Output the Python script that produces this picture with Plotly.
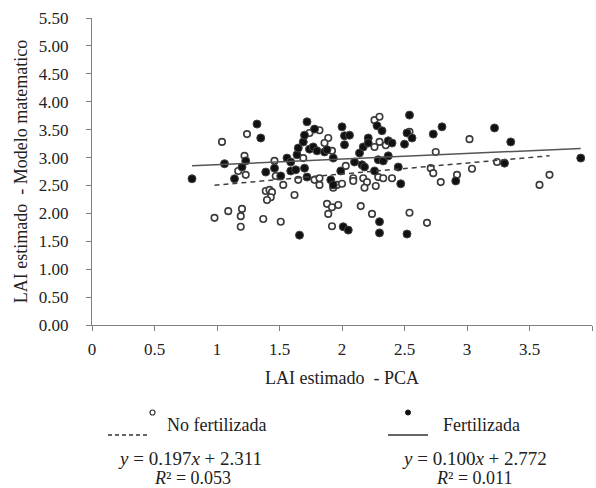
import plotly.graph_objects as go

# ---- data ----
x_nofert = [1.04, 1.24, 1.22, 1.17, 1.23, 0.98, 1.09, 1.19, 1.20, 1.19, 1.37, 1.51, 1.46, 1.47,
            1.53, 1.39, 1.42, 1.44, 1.43, 1.40, 1.62, 1.65, 1.69, 1.74, 1.82, 1.89, 1.86, 1.92,
            1.78, 1.82, 1.82, 1.88, 1.92, 1.97, 1.89, 1.92, 1.96, 2.00, 1.93, 2.03, 2.09, 2.09,
            2.15, 2.17, 2.20, 2.18, 2.27, 2.29, 2.33, 2.40, 2.24, 2.54, 2.68, 2.26, 2.30, 2.30,
            2.35, 2.26, 2.54, 2.71, 2.73, 2.75, 2.79, 2.92, 3.02, 3.04, 3.24, 3.58, 3.66]
y_nofert = [3.28, 3.42, 3.03, 2.76, 2.69, 1.92, 2.04, 1.95, 2.08, 1.76, 1.90, 1.85, 2.94, 2.67,
            2.51, 2.40, 2.42, 2.38, 2.29, 2.24, 2.33, 2.60, 2.99, 3.44, 3.49, 3.35, 3.26, 3.12,
            2.60, 2.51, 2.63, 2.17, 2.11, 2.15, 1.99, 1.77, 2.51, 2.53, 2.46, 2.85, 2.63, 2.58,
            2.13, 2.63, 2.56, 2.46, 2.49, 2.65, 2.63, 2.63, 1.99, 2.01, 1.83, 3.67, 3.73, 3.28,
            3.22, 3.19, 3.46, 2.81, 2.72, 3.10, 2.56, 2.69, 3.33, 2.80, 2.92, 2.51, 2.69]

x_fert = [0.80, 1.06, 1.14, 1.20, 1.23, 1.32, 1.35, 1.66, 1.39, 1.46, 1.51, 1.56, 1.59, 1.59,
          1.63, 1.64, 1.65, 1.69, 1.70, 1.72, 1.72, 1.70, 1.74, 1.77, 1.78, 1.80, 1.86, 1.88,
          1.93, 1.91, 1.93, 1.99, 2.01, 2.05, 2.00, 2.02, 2.02, 2.06, 2.10, 2.14, 2.16, 2.18,
          2.17, 2.21, 2.21, 2.28, 2.32, 2.26, 2.29, 2.33, 2.37, 2.37, 2.40, 2.30, 2.30, 2.45,
          2.47, 2.50, 2.52, 2.54, 2.56, 2.52, 2.73, 2.80, 2.91, 3.22, 3.35, 3.30, 3.91]
y_fert = [2.62, 2.89, 2.62, 2.83, 2.94, 3.60, 3.35, 1.61, 2.74, 2.81, 2.67, 2.99, 2.92, 2.76,
          2.78, 3.05, 3.17, 3.28, 2.81, 2.65, 3.64, 3.40, 3.15, 3.19, 3.51, 3.12, 3.10, 3.14,
          2.99, 2.60, 2.51, 2.76, 1.76, 1.70, 3.55, 3.39, 3.23, 3.40, 2.92, 3.08, 2.87, 2.83,
          3.19, 3.35, 3.26, 3.57, 3.48, 2.76, 2.96, 2.94, 3.03, 3.30, 3.26, 1.85, 1.65, 2.83,
          2.53, 3.24, 3.44, 3.76, 3.35, 1.63, 3.42, 3.55, 2.58, 3.53, 3.28, 2.90, 2.99]

slope_nofert, intercept_nofert, r2_nofert = 0.197, 2.311, 0.053
slope_fert, intercept_fert, r2_fert = 0.100, 2.772, 0.011

x_tick_vals = [0, 0.5, 1, 1.5, 2, 2.5, 3, 3.5, 4]
x_tick_text = ["0", "0.5", "1", "1.5", "2", "2.5", "3", "3.5", "4"]
y_tick_vals = [0, 0.5, 1, 1.5, 2, 2.5, 3, 3.5, 4, 4.5, 5, 5.5]
y_tick_text = ["0.00", "0.50", "1.00", "1.50", "2.00", "2.50", "3.00", "3.50",
               "4.00", "4.50", "5.00", "5.50"]

label_nofert = "No fertilizada"
label_fert = "Fertilizada"
x_title = "LAI estimado  - PCA"
y_title = "LAI estimado  - Modelo matematico"

# ---- layout geometry ----
W, H = 596, 488
L, R, T, B = 92, 4, 18, 163
PW, PH = W - L - R, H - T - B


def px(xp):
    return (xp - L) / PW


def py(yp):
    return (H - B - yp) / PH


FONT = "Liberation Serif"

fig = go.Figure()

fig.add_trace(go.Scatter(
    x=x_nofert, y=y_nofert, mode="markers", name=label_nofert,
    marker=dict(symbol="circle", size=6.5, color="white",
                line=dict(color="#3a3a3a", width=1.6)),
))
fig.add_trace(go.Scatter(
    x=x_fert, y=y_fert, mode="markers", name=label_fert,
    marker=dict(symbol="circle", size=8, color="#111111",
                line=dict(color="#444444", width=1)),
))

xn = [min(x_nofert), max(x_nofert)]
fig.add_trace(go.Scatter(
    x=xn, y=[slope_nofert * v + intercept_nofert for v in xn], mode="lines",
    line=dict(color="#404040", width=1.5, dash="5px,4px"), showlegend=False,
))
xf = [min(x_fert), max(x_fert)]
fig.add_trace(go.Scatter(
    x=xf, y=[slope_fert * v + intercept_fert for v in xf], mode="lines",
    line=dict(color="#555555", width=1.5), showlegend=False,
))

axis_common = dict(showgrid=False, zeroline=False, showline=True, linecolor="#7f7f7f",
                   linewidth=1, ticks="outside", ticklen=5, tickcolor="#7f7f7f",
                   tickfont=dict(family=FONT, size=17, color="#222222"))

fig.update_xaxes(range=[0, 4], tickvals=x_tick_vals, ticktext=x_tick_text,
                 title=dict(text=x_title, font=dict(family=FONT, size=18, color="#222222"),
                            standoff=12),
                 ticklabelstandoff=4, **axis_common)
fig.update_yaxes(range=[0, 5.5], tickvals=y_tick_vals, ticktext=y_tick_text,
                 title=dict(text=y_title, font=dict(family=FONT, size=18, color="#222222"),
                            standoff=6),
                 ticklabelstandoff=14, **axis_common)

shapes = [
    # legend symbols
    dict(type="line", xref="paper", yref="paper", x0=px(108), x1=px(150), y0=py(435), y1=py(435),
         line=dict(color="#333333", width=1.3, dash="4px,3px")),
    dict(type="circle", xref="paper", yref="paper", x0=px(150), x1=px(155), y0=py(410), y1=py(415),
         line=dict(color="#333333", width=1.2), fillcolor="white"),
    dict(type="line", xref="paper", yref="paper", x0=px(388), x1=px(428), y0=py(435), y1=py(435),
         line=dict(color="#333333", width=1.3)),
    dict(type="circle", xref="paper", yref="paper", x0=px(405.5), x1=px(410.5), y0=py(410), y1=py(415),
         line=dict(color="#111111", width=1), fillcolor="#111111"),
]

annotations = [
    dict(text=label_nofert, x=px(165), y=py(425), xanchor="left", yanchor="middle", size=18),
    dict(text=label_fert, x=px(441), y=py(425), xanchor="left", yanchor="middle", size=18),
    dict(text=f"<i>y</i> = {slope_nofert:.3f}<i>x</i> + {intercept_nofert:.3f}",
         x=px(190), y=py(458), xanchor="center", yanchor="middle", size=19),
    dict(text=f"<i>R</i>² = {r2_nofert:.3f}", x=px(192), y=py(478), xanchor="center",
         yanchor="middle", size=18),
    dict(text=f"<i>y</i> = {slope_fert:.3f}<i>x</i> + {intercept_fert:.3f}",
         x=px(474), y=py(458), xanchor="center", yanchor="middle", size=19),
    dict(text=f"<i>R</i>² = {r2_fert:.3f}", x=px(474), y=py(478), xanchor="center",
         yanchor="middle", size=18),
]
for a in annotations:
    s = a.pop("size")
    a.update(xref="paper", yref="paper", showarrow=False,
             font=dict(family=FONT, size=s, color="#222222"))

fig.update_layout(
    width=W, height=H,
    margin=dict(l=L, r=R, t=T, b=B),
    paper_bgcolor="white", plot_bgcolor="white",
    showlegend=False,
    shapes=shapes, annotations=annotations,
)

fig.write_html("out.html", config={"displayModeBar": False},
               post_script="document.body.style.margin='0px';document.body.style.overflow='hidden';")
